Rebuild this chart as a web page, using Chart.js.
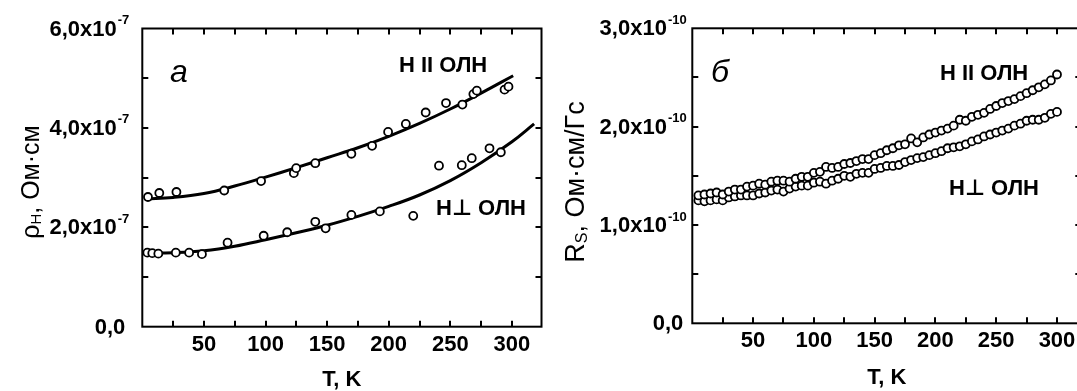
<!DOCTYPE html>
<html><head><meta charset="utf-8">
<script src="https://cdn.jsdelivr.net/npm/chart.js@4.4.1/dist/chart.umd.min.js"></script>
<style>
html,body{margin:0;padding:0;width:1077px;height:391px;overflow:hidden;background:#fff;}
canvas{position:absolute;top:0;}
#c1{left:0;}
#c2{left:560px;}
</style></head><body>
<canvas id="c1" width="560" height="391"></canvas>
<canvas id="c2" width="540" height="391"></canvas>
<script>
// ---------- Panel а : ρH (units of 1e-7 Ом·см) ----------
const aParT  = [4.6, 13.8, 27.7, 66.5, 96.4, 123, 124.9, 140.4, 169.7, 186.5, 199.5, 213.9, 230, 246.5, 259.8, 268.7, 271.5, 294, 297.2];
const aParV  = [2.61, 2.69, 2.71, 2.74, 2.93, 3.09, 3.19, 3.29, 3.48, 3.64, 3.92, 4.08, 4.31, 4.50, 4.47, 4.68, 4.75, 4.77, 4.83];
const aPerpT = [4.1, 8.1, 13, 27.2, 38, 48.4, 69.2, 98.5, 117.6, 140.4, 148.8, 169.7, 192.8, 219.9, 240.8, 259.3, 267.4, 281.8, 291];
const aPerpV = [1.49, 1.48, 1.47, 1.49, 1.49, 1.46, 1.69, 1.83, 1.90, 2.11, 1.98, 2.25, 2.32, 2.23, 3.24, 3.25, 3.39, 3.59, 3.51];
const aParFitT  = [3, 25, 50, 75, 100, 125, 150, 175, 200, 225, 250, 275, 301];
const aParFitV  = [2.57, 2.60, 2.68, 2.83, 3.01, 3.20, 3.40, 3.60, 3.83, 4.09, 4.38, 4.70, 5.05];
const aPerpFitT = [3, 25, 50, 75, 100, 125, 150, 175, 200, 225, 250, 275, 300, 318];
const aPerpFitV = [1.48, 1.49, 1.53, 1.62, 1.75, 1.89, 2.04, 2.22, 2.42, 2.65, 2.94, 3.30, 3.72, 4.08];

// ---------- Panel б : Rs (units of 1e-10 Ом·см/Гс) ----------
const bT = [5,10,15,20,25,30,35,40,45,50,55,60,65,70,75,80,85,90,95,100,105,110,115,120,125,130,135,140,145,150,
            155,160,165,170,175,180,185,190,195,200,205,210,215,220,225,230,235,240,245,250,255,260,265,270,275,280,285,290,295,300];
const bParV = [1.30,1.31,1.32,1.33,1.31,1.34,1.36,1.36,1.39,1.40,1.42,1.41,1.44,1.45,1.45,1.44,1.47,1.49,1.49,1.53,1.54,1.59,1.58,1.59,1.62,1.63,1.65,1.67,1.67,1.71,
               1.73,1.76,1.78,1.81,1.82,1.88,1.84,1.89,1.92,1.94,1.96,1.98,2.01,2.07,2.06,2.10,2.12,2.14,2.18,2.21,2.24,2.26,2.28,2.31,2.34,2.37,2.40,2.43,2.47,2.53];
const bPerpV = [1.25,1.24,1.25,1.26,1.25,1.28,1.29,1.30,1.30,1.30,1.32,1.33,1.35,1.36,1.34,1.37,1.39,1.40,1.40,1.43,1.44,1.42,1.45,1.47,1.50,1.49,1.52,1.53,1.53,1.57,
                1.58,1.60,1.60,1.61,1.64,1.66,1.68,1.69,1.71,1.73,1.75,1.78,1.79,1.80,1.82,1.85,1.87,1.90,1.92,1.94,1.96,1.98,2.01,2.03,2.06,2.07,2.07,2.09,2.13,2.15];

// ---------- Tick labels ----------
const xTickLabels = ['50','100','150','200','250','300'];
const aYTickMant = ['0,0','2,0x10','4,0x10','6,0x10'];
const aYTickExp  = ['','-7','-7','-7'];
const bYTickMant = ['0,0','1,0x10','2,0x10','3,0x10'];
const bYTickExp  = ['','-10','-10','-10'];

const FONT = "'Liberation Sans','DejaVu Sans',Arial,sans-serif";

function pts(xs, ys){ return xs.map((x,i)=>({x:x, y:ys[i]})); }

function drawRich(ctx, parts, x, y){
  let w = 0;
  parts.forEach(p=>{ ctx.font = p.f; p.w = ctx.measureText(p.t).width; w += p.w; });
  let cx = x - w/2;
  ctx.textAlign='left'; ctx.textBaseline='middle';
  parts.forEach(p=>{ ctx.font = p.f; ctx.fillText(p.t, cx, y + (p.dy||0)); cx += p.w; });
}

function framePlugin(cfg){
  return {
    id:'frame',
    afterDraw(chart){
      const ctx = chart.ctx, a = chart.chartArea, xs = chart.scales.x, ys = chart.scales.y;
      ctx.save();
      ctx.strokeStyle='#000'; ctx.fillStyle='#000'; ctx.lineWidth=2;
      ctx.strokeRect(a.left, a.top, a.right-a.left, a.bottom-a.top);
      ctx.beginPath();
      for(let t=25; t<xs.max; t+=25){
        const px = Math.round(xs.getPixelForValue(t));
        ctx.moveTo(px, a.bottom); ctx.lineTo(px, a.bottom-6);
        ctx.moveTo(px, a.top); ctx.lineTo(px, a.top+6);
      }
      for(let v=cfg.yStep; v<ys.max-1e-9; v+=cfg.yStep){
        const py = Math.round(ys.getPixelForValue(v));
        ctx.moveTo(a.left, py); ctx.lineTo(a.left+6, py);
        ctx.moveTo(a.right, py); ctx.lineTo(a.right-6, py);
      }
      ctx.stroke();
      ctx.font = "bold 22px " + FONT; ctx.textAlign='center'; ctx.textBaseline='middle';
      xTickLabels.forEach(l=>{
        ctx.fillText(l, xs.getPixelForValue(parseFloat(l)), a.bottom + cfg.xLabOff);
      });
      cfg.yVals.forEach((v,i)=>{
        const py = ys.getPixelForValue(v);
        const exp = cfg.yExp[i];
        ctx.textBaseline='middle';
        if(exp){
          ctx.font = "bold 13px " + FONT; ctx.textAlign='right';
          ctx.fillText(exp, a.left - cfg.supGap, py - 8);
          const ew = ctx.measureText(exp).width;
          ctx.font = "bold 22px " + FONT;
          ctx.fillText(cfg.yMant[i], a.left - cfg.supGap - ew - 1, py + 1);
        } else {
          ctx.font = "bold 22px " + FONT; ctx.textAlign='right';
          ctx.fillText(cfg.yMant[i], a.left - cfg.zeroGap, py + 1);
        }
      });
      ctx.font = "bold 22px " + FONT; ctx.textAlign='center'; ctx.textBaseline='middle';
      ctx.fillText('T, K', (a.left+a.right)/2 + cfg.xTitleDx, cfg.xTitleY);
      ctx.save();
      ctx.translate(cfg.yTitleX, cfg.yTitleY);
      ctx.rotate(-Math.PI/2);
      drawRich(ctx, cfg.yTitle, 0, 0);
      ctx.restore();
      ctx.font = "italic 32px " + FONT; ctx.textAlign='left'; ctx.textBaseline='alphabetic';
      ctx.fillText(cfg.letter, cfg.letterX, cfg.letterY);
      ctx.font = "bold 22px " + FONT; ctx.textAlign='left'; ctx.textBaseline='alphabetic';
      cfg.notes.forEach(n=> ctx.fillText(n.t, n.x, n.y));
      ctx.restore();
    }
  };
}

const ptStyle = {showLine:false, pointRadius:4, pointBorderWidth:1.8, pointBorderColor:'#000', pointBackgroundColor:'#fff', order:0};
const lnStyle = {showLine:true, pointRadius:0, borderColor:'#000', borderWidth:3, tension:0.4, order:1};
const common = (padding, xmax, ymax) => ({
  responsive:false, animation:false, devicePixelRatio:1,
  layout:{padding:padding},
  plugins:{legend:{display:false}, tooltip:{enabled:false}},
  scales:{
    x:{type:'linear', min:0, max:xmax, display:false},
    y:{type:'linear', min:0, max:ymax, display:false}
  }
});

new Chart(document.getElementById('c1'), {
  type:'scatter',
  data:{datasets:[
    Object.assign({label:'H || ОЛН', data:pts(aParT, aParV)}, ptStyle),
    Object.assign({label:'H ⊥ ОЛН', data:pts(aPerpT, aPerpV)}, ptStyle),
    Object.assign({label:'fit ||', data:pts(aParFitT, aParFitV)}, lnStyle),
    Object.assign({label:'fit ⊥', data:pts(aPerpFitT, aPerpFitV)}, lnStyle)
  ]},
  options: common({left:142.3, top:28.5, right:18.5, bottom:64.3}, 324, 6),
  plugins:[framePlugin({
    yStep:1, yVals:[0,2,4,6], yMant:aYTickMant, yExp:aYTickExp, supGap:13, zeroGap:17,
    xLabOff:18, xTitleDx:0, xTitleY:380,
    yTitle:[{t:'ρ', f:"25px "+FONT},{t:'Н', f:"15px "+FONT, dy:5},{t:', Ом·см', f:"25px "+FONT}],
    yTitleX:32, yTitleY:182,
    letter:'а', letterX:170, letterY:82,
    notes:[{t:'H II ОЛН', x:399, y:72},{t:'H⊥ ОЛН', x:436, y:215}]
  })]
});

new Chart(document.getElementById('c2'), {
  type:'scatter',
  data:{datasets:[
    Object.assign({label:'H || ОЛН', data:pts(bT, bParV)}, ptStyle),
    Object.assign({label:'H ⊥ ОЛН', data:pts(bT, bPerpV)}, ptStyle)
  ]},
  options: common({left:132.3, top:28.3, right:18.7, bottom:67.7}, 320, 3),
  plugins:[framePlugin({
    yStep:0.5, yVals:[0,1,2,3], yMant:bYTickMant, yExp:bYTickExp, supGap:5.6, zeroGap:9,
    xLabOff:18, xTitleDx:0, xTitleY:378,
    yTitle:[{t:'R', f:"27px "+FONT},{t:'S', f:"16px "+FONT, dy:6},{t:', Ом·см/Гс', f:"27px "+FONT}],
    yTitleX:17, yTitleY:182,
    letter:'б', letterX:151, letterY:82,
    notes:[{t:'H II ОЛН', x:380, y:80},{t:'H⊥ ОЛН', x:389, y:195}]
  })]
});
</script>
</body></html>
